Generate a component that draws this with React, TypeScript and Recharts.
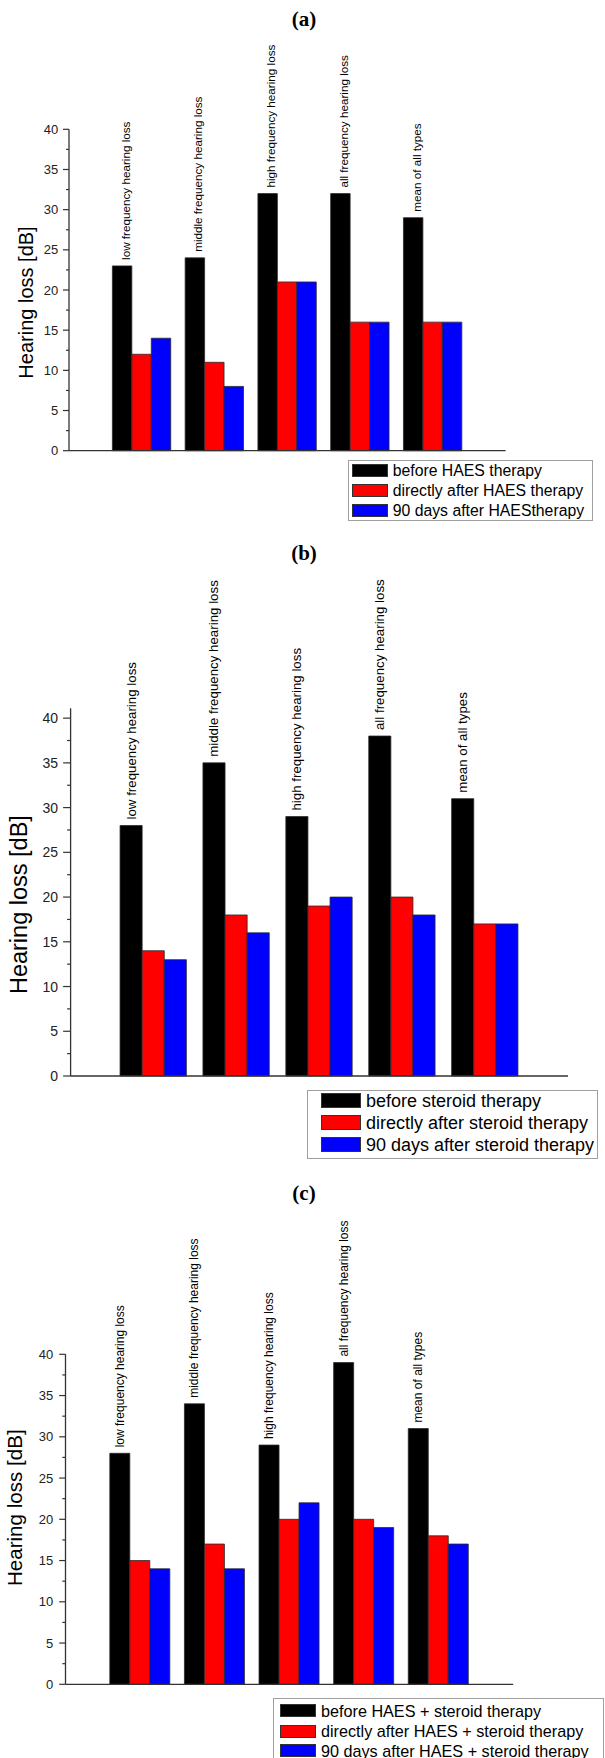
import React from 'react';
import { BarChart, Bar, XAxis, YAxis, LabelList } from 'recharts';

// ---------- data ----------
const categories = [
  'low frequency hearing loss',
  'middle frequency hearing loss',
  'high frequency hearing loss',
  'all frequency hearing loss',
  'mean of all types',
];
const categoryPositions = [1, 2, 3, 4, 5];
const xTicks = [0, 1, 2, 3, 4, 5, 6];
const yTicks = [0, 2.5, 5, 7.5, 10, 12.5, 15, 17.5, 20, 22.5, 25, 27.5, 30, 32.5, 35, 37.5, 40];
const yTitle = 'Hearing loss [dB]';
const panelTitles = ['(a)', '(b)', '(c)'];

const haesBefore = [23, 24, 32, 32, 29];
const haesDirect = [12, 11, 21, 16, 16];
const haes90 = [14, 8, 21, 16, 16];

const steroidBefore = [28, 35, 29, 38, 31];
const steroidDirect = [14, 18, 19, 20, 17];
const steroid90 = [13, 16, 20, 18, 17];

const comboBefore = [28, 34, 29, 39, 31];
const comboDirect = [15, 17, 20, 20, 18];
const combo90 = [14, 14, 22, 19, 17];

const haesLegend = ['before HAES therapy', 'directly after HAES therapy', '90 days after HAEStherapy'];
const steroidLegend = ['before steroid therapy', 'directly after steroid therapy', '90 days after steroid therapy'];
const comboLegend = [
  'before HAES + steroid therapy',
  'directly after HAES + steroid therapy',
  '90 days after HAES + steroid therapy',
];

const seriesColors = ['#000000', '#ff0000', '#0000ff'];
const seriesKeys = ['before', 'direct', 'later'];

// ---------- layout ----------
const SANS = "'Liberation Sans', Arial, Helvetica, sans-serif";
const SERIF = "'Liberation Serif', 'Times New Roman', serif";
const AXIS = '#333';
const YW = 60;

type Panel = {
  title: string;
  titleY: number;
  top: number;
  height: number;
  plotLeft: number;
  plotRight: number;
  plotTop: number;
  plotBottom: number;
  yMax: number;
  barSize: number;
  tickFont: number;
  tickSize: number;
  tickMargin: number;
  minorSize: number;
  xTickSize: number;
  catFont: number;
  catDx: number;
  catGap: number;
  titleFont: number;
  titleX: number;
  titleCY: number;
  before: number[];
  direct: number[];
  later: number[];
  legend: string[];
  lg: {
    left: number; top: number; width: number; height: number;
    rows: number[]; swLeft: number; swW: number; swH: number; textLeft: number; font: number; rowH: number;
  };
};

const panels: Panel[] = [
  {
    title: panelTitles[0], titleY: 19, top: 0, height: 470,
    plotLeft: 69, plotRight: 505.6, plotTop: 129.3, plotBottom: 450.7, yMax: 40,
    barSize: 19.45, tickFont: 13, tickSize: 6, tickMargin: 4.7, minorSize: 3, xTickSize: 6.5,
    catFont: 11.7, catDx: 3, catGap: 6,
    titleFont: 20, titleX: 32.5, titleCY: 302.5,
    before: haesBefore, direct: haesDirect, later: haes90, legend: haesLegend,
    lg: { left: 348.4, top: 460, width: 244.3, height: 60.7, rows: [10.7, 30.7, 50.7], swLeft: 3.5, swW: 35.8, swH: 13.3, textLeft: 44.3, font: 15.8, rowH: 20 },
  },
  {
    title: panelTitles[1], titleY: 553.3, top: 560, height: 540,
    plotLeft: 70.6, plotRight: 568, plotTop: 708.3, plotBottom: 1076, yMax: 41.1,
    barSize: 22.1, tickFont: 14, tickSize: 7.5, tickMargin: 5, minorSize: 3.5, xTickSize: 7,
    catFont: 13.3, catDx: 0, catGap: 6,
    titleFont: 23.5, titleX: 27, titleCY: 904.6,
    before: steroidBefore, direct: steroidDirect, later: steroid90, legend: steroidLegend,
    lg: { left: 307.3, top: 1090.3, width: 290.4, height: 69, rows: [10.2, 32.3, 54.4], swLeft: 13.4, swW: 40.3, swH: 15.3, textLeft: 58.7, font: 18, rowH: 22 },
  },
  {
    title: panelTitles[2], titleY: 1193, top: 1200, height: 510,
    plotLeft: 65.5, plotRight: 513.2, plotTop: 1354.3, plotBottom: 1684.3, yMax: 40,
    barSize: 20, tickFont: 13, tickSize: 6.3, tickMargin: 6, minorSize: 3.2, xTickSize: 7,
    catFont: 12, catDx: 0, catGap: 6,
    titleFont: 20.6, titleX: 21.7, titleCY: 1507.7,
    before: comboBefore, direct: comboDirect, later: combo90, legend: comboLegend,
    lg: { left: 272.7, top: 1698, width: 331.3, height: 75, rows: [12.7, 33, 52.5], swLeft: 7.3, swW: 35.7, swH: 13, textLeft: 48.3, font: 16.2, rowH: 20 },
  },
];

function makeData(p: Panel) {
  return categories.map((name, i) => ({
    pos: categoryPositions[i],
    name,
    before: p.before[i],
    direct: p.direct[i],
    later: p.later[i],
  }));
}

function PanelChart({ p }: { p: Panel }) {
  const data = makeData(p);
  const margin = {
    top: p.plotTop - p.top,
    right: 605 - p.plotRight,
    bottom: p.top + p.height - p.plotBottom - 10,
    left: p.plotLeft - YW,
  };

  const renderYTick = (props: any) => {
    const { x, y, payload } = props;
    const axisX = Number(x) + p.tickSize + p.tickMargin;
    const v = Number(payload.value);
    const major = v % 5 === 0;
    return (
      <g>
        <line
          x1={axisX - (major ? p.tickSize : p.minorSize)}
          x2={axisX}
          y1={y}
          y2={y}
          stroke={AXIS}
          strokeWidth={1.2}
        />
        {major && (
          <text
            x={x}
            y={y}
            textAnchor="end"
            dominantBaseline="central"
            fontFamily={SANS}
            fontSize={p.tickFont}
            fill="#222"
          >
            {v}
          </text>
        )}
      </g>
    );
  };

  const renderTitle = () => {
    const ty = p.titleCY - p.top;
    return (
      <text
        x={p.titleX}
        y={ty}
        transform={`rotate(-90 ${p.titleX} ${ty})`}
        textAnchor="middle"
        fontFamily={SANS}
        fontSize={p.titleFont}
        fill="#000"
      >
        {yTitle}
      </text>
    );
  };

  const renderCat = (props: any) => {
    const { x, y, width, value } = props;
    const cx = Number(x) + Number(width) / 2 + p.catDx;
    const cy = Number(y) - p.catGap;
    return (
      <text
        x={cx}
        y={cy}
        transform={`rotate(-90 ${cx} ${cy})`}
        textAnchor="start"
        dominantBaseline="central"
        fontFamily={SANS}
        fontSize={p.catFont}
        fill="#000"
      >
        {value}
      </text>
    );
  };

  return (
    <div style={{ position: 'absolute', left: 0, top: p.top, width: 605, height: p.height }}>
      <BarChart width={605} height={p.height} data={data} margin={margin} barGap={0}>
        <XAxis
          dataKey="pos"
          type="number"
          domain={[0, 6]}
          ticks={xTicks}
          tickCount={7}
          interval={0}
          height={10}
          tick={false}
          tickSize={p.xTickSize}
          axisLine={{ stroke: AXIS, strokeWidth: 1.3 }}
          tickLine={{ stroke: AXIS, strokeWidth: 1.2 }}
        />
        <YAxis
          type="number"
          domain={[0, p.yMax]}
          ticks={yTicks}
          interval={0}
          width={YW}
          tickLine={false}
          tickSize={p.tickSize}
          tickMargin={p.tickMargin}
          axisLine={{ stroke: AXIS, strokeWidth: 1.3 }}
          tick={renderYTick}
          label={renderTitle}
        />
        {seriesKeys.map((k, i) => (
          <Bar
            key={k}
            dataKey={k}
            fill={seriesColors[i]}
            stroke="#2a2a2a"
            strokeWidth={0.8}
            barSize={p.barSize}
            isAnimationActive={false}
          >
            {i === 0 && <LabelList dataKey="name" content={renderCat} />}
          </Bar>
        ))}
      </BarChart>
    </div>
  );
}

function LegendBox({ p }: { p: Panel }) {
  const g = p.lg;
  return (
    <div
      style={{
        position: 'absolute',
        left: g.left,
        top: g.top,
        width: g.width,
        height: g.height,
        border: '1px solid #a0a0a0',
        background: '#fff',
        boxSizing: 'border-box',
        fontFamily: SANS,
      }}
    >
      {p.legend.map((t, i) => (
        <div
          key={t}
          style={{ position: 'absolute', left: -1, top: g.rows[i] - g.rowH / 2 - 1, height: g.rowH, width: g.width }}
        >
          <div
            style={{
              position: 'absolute',
              left: g.swLeft,
              top: (g.rowH - g.swH) / 2,
              width: g.swW,
              height: g.swH,
              background: seriesColors[i],
              border: '1px solid #333',
              boxSizing: 'border-box',
            }}
          />
          <div
            style={{
              position: 'absolute',
              left: g.textLeft,
              top: 0,
              height: g.rowH,
              lineHeight: `${g.rowH}px`,
              fontSize: g.font,
              whiteSpace: 'nowrap',
              color: '#000',
            }}
          >
            {t}
          </div>
        </div>
      ))}
    </div>
  );
}

export default function App() {
  return (
    <div
      style={{
        position: 'absolute',
        left: 0,
        top: 0,
        width: 605,
        height: 1758,
        background: '#fff',
        overflow: 'hidden',
      }}
    >
      {panels.map((p) => (
        <React.Fragment key={p.title}>
          <div
            style={{
              position: 'absolute',
              left: 254,
              width: 100,
              top: p.titleY - 12,
              height: 24,
              lineHeight: '24px',
              textAlign: 'center',
              fontFamily: SERIF,
              fontWeight: 'bold',
              fontSize: 21,
              color: '#000',
            }}
          >
            {p.title}
          </div>
          <PanelChart p={p} />
        </React.Fragment>
      ))}
      {panels.map((p) => (
        <LegendBox key={'lg' + p.title} p={p} />
      ))}
    </div>
  );
}
